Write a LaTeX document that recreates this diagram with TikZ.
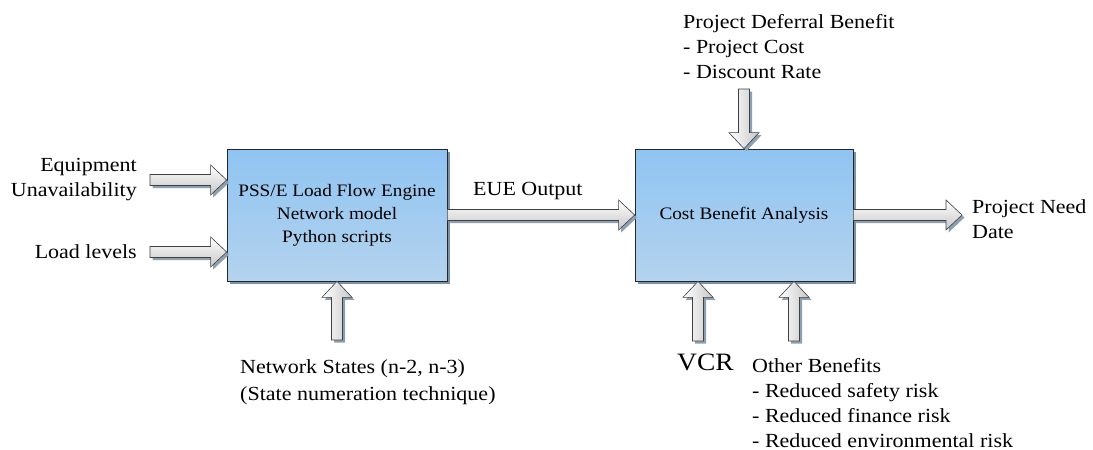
\documentclass[tikz,border=0pt]{standalone}
\usepackage{fontspec}
\setmainfont{Liberation Serif}[FakeStretch=1.1]
\usetikzlibrary{calc,shadows}
\definecolor{boxtop}{RGB}{143,196,242}
\definecolor{boxbot}{RGB}{180,211,238}
\definecolor{boxshadow}{RGB}{125,145,165}
\definecolor{arshadow}{RGB}{140,160,178}
\newcommand\blockarrow[3]{%
  \fill[arshadow] let \p1=(#1), \p2=(#2), \n1={atan2(\y2-\y1,\x2-\x1)}, \n2={veclen(\x2-\x1,\y2-\y1)} in
    {[shift={(\p1)}, xshift=2.5pt, yshift=-2.5pt, rotate=\n1]
     (0pt,-5.5pt) -- ({\n2*1pt-16pt},-5.5pt) -- ({\n2*1pt-16pt},-15pt) -- ({\n2*1pt},0pt)
     -- ({\n2*1pt-16pt},15pt) -- ({\n2*1pt-16pt},5.5pt) -- (0pt,5.5pt) -- cycle};
  \path[arrowbody, shading angle=#3] let \p1=(#1), \p2=(#2), \n1={atan2(\y2-\y1,\x2-\x1)}, \n2={veclen(\x2-\x1,\y2-\y1)} in
    {[shift={(\p1)}, rotate=\n1]
     (0pt,-5.5pt) -- ({\n2*1pt-16pt},-5.5pt) -- ({\n2*1pt-16pt},-15pt) -- ({\n2*1pt},0pt)
     -- ({\n2*1pt-16pt},15pt) -- ({\n2*1pt-16pt},5.5pt) -- (0pt,5.5pt) -- cycle};
}
\tikzset{
  x=1pt, y=-1pt,
  box/.style={draw=black!85, line width=0.7pt, top color=boxtop, bottom color=boxbot,
    minimum height=132pt, align=center, inner sep=0pt,
    font=\fontsize{17.5}{23}\selectfont,
    drop shadow={shadow xshift=3pt, shadow yshift=-3pt, fill=boxshadow, opacity=1}},
  arrowbody/.style={draw=black!75, line width=0.6pt, shade, top color=white, bottom color=black!22},
  lbl/.style={inner sep=0pt, font=\fontsize{20}{25}\selectfont},
}
\begin{document}
\begin{tikzpicture}
\useasboundingbox[fill=white] (0,0) rectangle (1093,450);

\node[box, minimum width=220pt] (b1) at (337,215) {PSS/E Load Flow Engine\\Network model\\Python scripts};
\node[box, minimum width=218pt] (b2) at (744,215) {Cost Benefit Analysis};

\coordinate (eqs) at (150,180);
\coordinate (lls) at (150,252);
\coordinate (pne) at (962,215);
\coordinate (pds) at (744,89);
\coordinate (nss) at (337,340);
\coordinate (vcs) at (698,341);
\coordinate (obs) at (794,341);

\blockarrow{eqs}{b1.west |- eqs}{0}
\blockarrow{lls}{b1.west |- lls}{0}
\blockarrow{b1.east}{b2.west}{0}
\blockarrow{b2.east}{pne}{0}
\blockarrow{pds}{b2.north}{90}
\blockarrow{nss}{b1.south}{90}
\blockarrow{vcs}{b2.south -| vcs}{90}
\blockarrow{obs}{b2.south -| obs}{90}

\node[lbl, anchor=base east, align=right] (eq) at (137,196) {Equipment\\Unavailability};
\node[lbl, anchor=base east] (ll) at (137,258) {Load levels};
\node[lbl, anchor=base west] (eue) at (473,195) {EUE Output};
\node[lbl, anchor=base west, align=left] (pn) at (972,238) {Project Need\\Date};
\node[lbl, anchor=base west, align=left] (pd) at (683,78) {Project Deferral Benefit\\- Project Cost\\- Discount Rate};
\node[lbl, anchor=base west, align=left, font=\fontsize{20}{27}\selectfont] (ns) at (240,400) {Network States (n-2, n-3)\\(State numeration technique)};
\node[lbl, anchor=base west, font=\fontsize{25}{30}\selectfont] (vcr) at (677,370) {VCR};
\node[lbl, anchor=base west, align=left] (ob) at (752,447) {Other Benefits\\- Reduced safety risk\\- Reduced finance risk\\- Reduced environmental risk};
\end{tikzpicture}
\end{document}
